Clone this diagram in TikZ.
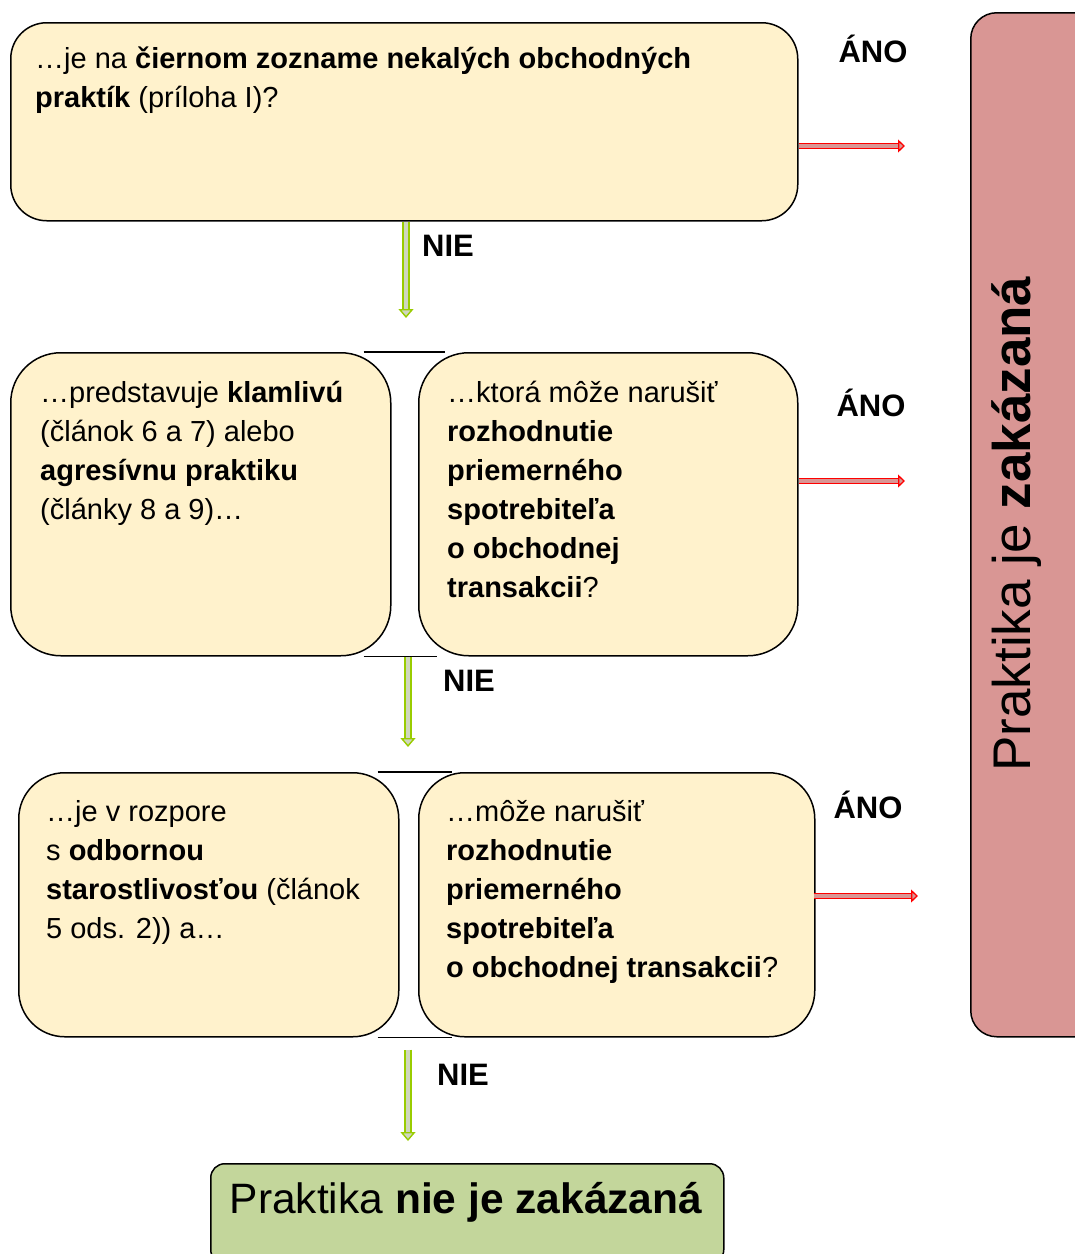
\documentclass[tikz,border=0pt]{standalone}
\usepackage{fontspec}
\setmainfont{Liberation Sans}
\usetikzlibrary{arrows.meta}

\definecolor{qfill}{HTML}{FFF2CC}
\definecolor{nofill}{HTML}{C3D69B}
\definecolor{yesfill}{HTML}{D99694}
\definecolor{nogreen}{HTML}{99CC00}
\definecolor{yesred}{HTML}{FF0000}

\tikzset{
  qbox/.style={draw=black, line width=1.5pt, fill=qfill, anchor=north west, inner sep=0pt},
  qtext/.style={anchor=north west, align=left, inner sep=0pt,
    font=\fontsize{29}{39}\selectfont, execute at begin node=\rule{0pt}{26pt}},
  answer/.style={font=\fontsize{31}{35}\selectfont\bfseries, inner sep=0pt},
  noarrow/.style={draw=nogreen, line width=1.4pt, double=nofill!70!gray!60,
    double distance=4.6pt, -{Triangle[length=9pt,width=15pt,fill=nofill!70!gray!60]}},
  yesarrow/.style={draw=yesred, line width=1.3pt, double=yesfill,
    double distance=3.8pt, -{Triangle[length=7pt,width=13pt,fill=yesfill]}},
  pairline/.style={draw=black, line width=1.3pt}
}

\begin{document}
\begin{tikzpicture}[x=1pt, y=-1pt]
\useasboundingbox (0,0) rectangle (1075,1254);

% verdict: prohibited
\node[qbox, fill=yesfill, rounded corners=26pt, minimum width=130pt,
  minimum height=1024pt] (ban) at (970,12) {};
\node[rotate=90, font=\fontsize{53}{56}\selectfont, inner sep=0pt] (bantext)
  at (1017,524) {Praktika je \textbf{zakázaná}};

% step 1
\node[qbox, rounded corners=36pt, minimum width=787pt, minimum height=198pt]
  (q1) at (10,22) {};
\node[qtext] (t1) at (35,47) {…je na \textbf{čiernom zozname nekalých obchodných}\\
  \textbf{praktík} (príloha I)?};

% step 2
\node[qbox, rounded corners=50pt, minimum width=380pt, minimum height=303pt]
  (q2a) at (10,352) {};
\node[qbox, rounded corners=50pt, minimum width=379pt, minimum height=303pt]
  (q2b) at (418,352) {};
\node[qtext] (t2a) at (40,381) {…predstavuje \textbf{klamlivú}\\
  (článok 6 a 7) alebo\\ \textbf{agresívnu praktiku}\\ (články 8 a 9)…};
\node[qtext] (t2b) at (447,381) {…ktorá môže narušiť\\ \textbf{rozhodnutie}\\
  \textbf{priemerného}\\ \textbf{spotrebiteľa}\\ \textbf{o obchodnej}\\
  \textbf{transakcii}?};
\draw[pairline] ([xshift=-28pt]q2a.north east) -- ([xshift=27pt]q2b.north west);
\draw[pairline] ([xshift=-28pt]q2a.south east) -- ([xshift=19pt]q2b.south west);

% step 3
\node[qbox, rounded corners=46pt, minimum width=380pt, minimum height=264pt]
  (q3a) at (18,772) {};
\node[qbox, rounded corners=46pt, minimum width=396pt, minimum height=264pt]
  (q3b) at (418,772) {};
\node[qtext] (t3a) at (46,800) {…je v rozpore\\ s \textbf{odbornou}\\
  \textbf{starostlivosťou} (článok\\ 5 ods. 2)) a…};
\node[qtext] (t3b) at (446,800) {…môže narušiť\\ \textbf{rozhodnutie}\\
  \textbf{priemerného}\\ \textbf{spotrebiteľa}\\ \textbf{o obchodnej transakcii}?};
\draw[pairline] ([xshift=-22pt]q3a.north east) -- ([xshift=34pt]q3b.north west);
\draw[pairline] ([xshift=-22pt]q3a.south east) -- ([xshift=34pt]q3b.south west);

% verdict: not prohibited
\node[qbox, fill=nofill, rounded corners=14pt, minimum width=513pt,
  minimum height=100pt] (ok) at (210,1163) {};
\node[font=\fontsize{42.5}{46}\selectfont, inner sep=0pt] (oktext)
  at (466,1202) {Praktika \textbf{nie je zakázaná}};

% answers
\node[answer] (yes1) at (873,49) {ÁNO};
\node[answer] (yes2) at (871,403) {ÁNO};
\node[answer] (yes3) at (868,805) {ÁNO};
\node[answer] (no1) at (448,246) {NIE};
\node[answer] (no2) at (469,681) {NIE};
\node[answer] (no3) at (463,1075) {NIE};

% connectors
\coordinate (r1) at (905,146);
\coordinate (r2) at (905,481);
\coordinate (r3) at (918,896);
\draw[yesarrow] (q1.east |- r1) -- (r1);
\draw[yesarrow] (q2b.east |- r2) -- (r2);
\draw[yesarrow] ([xshift=-2pt]q3b.east |- r3) -- (r3);

\coordinate (n1) at (406,318);
\coordinate (n2) at (408,747);
\coordinate (n3) at (408,1141);
\draw[noarrow] (q1.south -| n1) -- (n1);
\draw[noarrow] (q2a.south -| n2) -- (n2);
\draw[noarrow] ([yshift=-12pt]q3a.south -| n3) -- (n3);
\end{tikzpicture}
\end{document}
